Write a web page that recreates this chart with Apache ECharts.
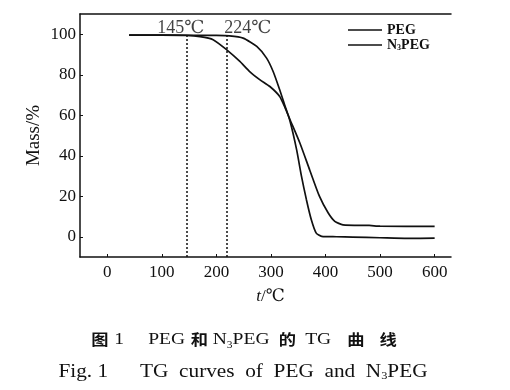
<!DOCTYPE html>
<html><head><meta charset="utf-8">
<script src="https://cdn.jsdelivr.net/npm/echarts@6/dist/echarts.min.js"></script>
<style>html,body{margin:0;padding:0;background:#fff}#c{width:510px;height:390px}</style>
</head><body><div id="c"></div>
<script>
// PEG curve
const pegT = [40, 100, 145, 200, 224, 249, 274, 292, 304, 316, 325, 335, 347, 356, 365, 374, 383, 393, 420, 450, 500, 550, 600];
const pegM = [99.6, 99.6, 99.5, 99.4, 99.2, 98.1, 94, 88.2, 81.6, 72.6, 65.2, 57, 43, 29.8, 18.3, 8.4, 1.8, 0.2, 0, -0.2, -0.5, -0.8, -0.7];
// N3PEG curve
const n3T = [40, 100, 145, 170, 194, 219, 243, 261, 280, 298, 316, 325, 335, 353, 371, 389, 405, 417, 432, 480, 500, 600];
const n3M = [99.6, 99.6, 99.4, 98.8, 97.3, 92.3, 86.6, 81.6, 77.5, 74.2, 69.3, 64.3, 57.8, 46.3, 33, 19.9, 11.7, 7.6, 5.9, 5.6, 5.2, 5.1];
// onset markers
const onsetT = [146, 219];
const onsetLabels = ['145℃', '224℃'];
const xTicks = [0, 100, 200, 300, 400, 500, 600];
const yTicks = [0, 20, 40, 60, 80, 100];
// caption pieces: [style, text, gap before]
const cap1 = [['c', '图', 0], ['r', '1', 5], ['r', 'PEG', 21], ['c', '和', 5], ['r', 'N', 4], ['s', '3', 0], ['r', 'PEG', 0],
              ['c', '的', 8], ['r', 'TG', 8], ['c', '曲', 14], ['c', '线', 13]];

const serif = '"Liberation Serif","DejaVu Serif",serif';
const cjk = '"Noto Sans CJK SC"';
const ink = '#111';
const chart = echarts.init(document.getElementById('c'));
const zip = (a, b) => a.map((v, i) => [v, b[i]]);

const base1 = {
  c: { fontFamily: cjk, fontWeight: 'bold', fontSize: 15, fill: ink, lineHeight: 20, verticalAlign: 'middle' },
  r: { fontFamily: serif, fontWeight: 'normal', fontSize: 17, fill: ink, lineHeight: 20, verticalAlign: 'middle' },
  s: { fontFamily: serif, fontWeight: 'normal', fontSize: 10, fill: ink, verticalAlign: 'bottom' }
};
const rich1 = {};
const text1 = cap1.map(([st, tx, gap], i) => {
  rich1['t' + i] = Object.assign({}, base1[st], { padding: st === 's' ? [6, 0, 0, gap] : st === 'c' ? [0, 0, 2, gap] : [0, 0, 0, gap] });
  return '{t' + i + '|' + tx + '}';
}).join('');
const rich2 = {
  r: { fontFamily: serif, fontWeight: 'normal', fontSize: 19, fill: ink },
  s: { fontFamily: serif, fontWeight: 'normal', fontSize: 11, fill: ink, verticalAlign: 'bottom', padding: [7, 0, 0, 0] }
};

chart.setOption({
  animation: false,
  backgroundColor: '#fff',
  grid: { left: 80, right: 59, top: 14, bottom: 133 },
  xAxis: [{
    type: 'value', min: -50, max: 630,
    axisLine: { onZero: false, lineStyle: { color: ink, width: 1.5 } },
    axisTick: { inside: true, length: 3, customValues: xTicks, lineStyle: { color: ink } },
    axisLabel: { customValues: xTicks, color: ink, fontFamily: serif, fontSize: 17, margin: 7 },
    splitLine: { show: false },
    name: '{i|t}/℃', nameLocation: 'middle', nameGap: 31,
    nameTextStyle: { color: ink, fontFamily: serif, fontSize: 17, padding: [0, 0, 0, 10],
      rich: { i: { fontStyle: 'italic', fontFamily: serif, fontSize: 17, color: ink } } }
  }, {
    type: 'value', min: -50, max: 630, position: 'top',
    axisLine: { show: true, onZero: false, lineStyle: { color: ink, width: 1.5 } },
    axisTick: { show: false }, axisLabel: { show: false }, splitLine: { show: false }
  }],
  yAxis: {
    type: 'value', min: -10, max: 110,
    axisLine: { show: true, onZero: false, lineStyle: { color: ink, width: 1.5 } },
    axisTick: { show: true, inside: true, length: 3, customValues: yTicks, lineStyle: { color: ink } },
    axisLabel: { customValues: yTicks, color: ink, fontFamily: serif, fontSize: 17, margin: 4 },
    splitLine: { show: false },
    name: 'Mass/%', nameLocation: 'middle', nameGap: 36, nameMoveOverlap: false,
    nameTextStyle: { color: ink, fontFamily: serif, fontSize: 19 }
  },
  legend: {
    left: 343, top: 18, orient: 'vertical', icon: 'rect', itemWidth: 34, itemHeight: 1.6, itemGap: 1,
    data: ['PEG', 'N3PEG'],
    formatter: n => n === 'N3PEG' ? '{n|N}{s|3}{n|PEG}' : '{n|PEG}',
    textStyle: { color: ink, fontFamily: serif, fontSize: 14, fontWeight: 'bold',
      rich: { n: { fontFamily: serif, fontSize: 14, fontWeight: 'bold', color: ink, height: 14 },
              s: { fontFamily: serif, fontSize: 8, fontWeight: 'bold', color: ink, verticalAlign: 'bottom', padding: [4, 0, 0, 0] } } }
  },
  graphic: [{
    type: 'text', x: 244, y: 340, scaleX: 1.15,
    style: { text: text1, rich: rich1, align: 'center', verticalAlign: 'middle', fill: ink }
  }, {
    type: 'text', x: 243, y: 372, scaleX: 1.12,
    style: {
      text: '{r|Fig. 1      TG  curves  of  PEG  and  N}{s|3}{r|PEG}',
      rich: rich2, align: 'center', verticalAlign: 'middle', fill: ink
    }
  }],
  series: [{
    name: 'PEG', type: 'line', data: zip(pegT, pegM), showSymbol: false, symbol: 'none',
    smooth: 0.2,
    lineStyle: { color: ink, width: 1.7 }, itemStyle: { color: ink }, z: 3
  }, {
    name: 'N3PEG', type: 'line', data: zip(n3T, n3M), showSymbol: false, symbol: 'none',
    smooth: 0.2,
    lineStyle: { color: ink, width: 1.7 }, itemStyle: { color: ink }, z: 3
  }, {
    name: 'onset', type: 'line', data: [], silent: true,
    markLine: {
      symbol: 'none', silent: true, label: { show: false },
      lineStyle: { color: ink, type: [2, 2], width: 1.5 },
      data: onsetT.map(t => [{ coord: [t, -10] }, { coord: [t, 99.5] }])
    }
  }, {
    name: 'labels', type: 'scatter', symbolSize: 0, silent: true,
    data: onsetT.map((t, i) => ({ value: [t, 99.5], label: { offset: i === 0 ? [-6, -7] : [21, -7] } })),
    label: { show: true, position: 'inside', formatter: p => onsetLabels[p.dataIndex],
      color: ink, fontFamily: serif, fontSize: 18 }
  }]
});
</script></body></html>
